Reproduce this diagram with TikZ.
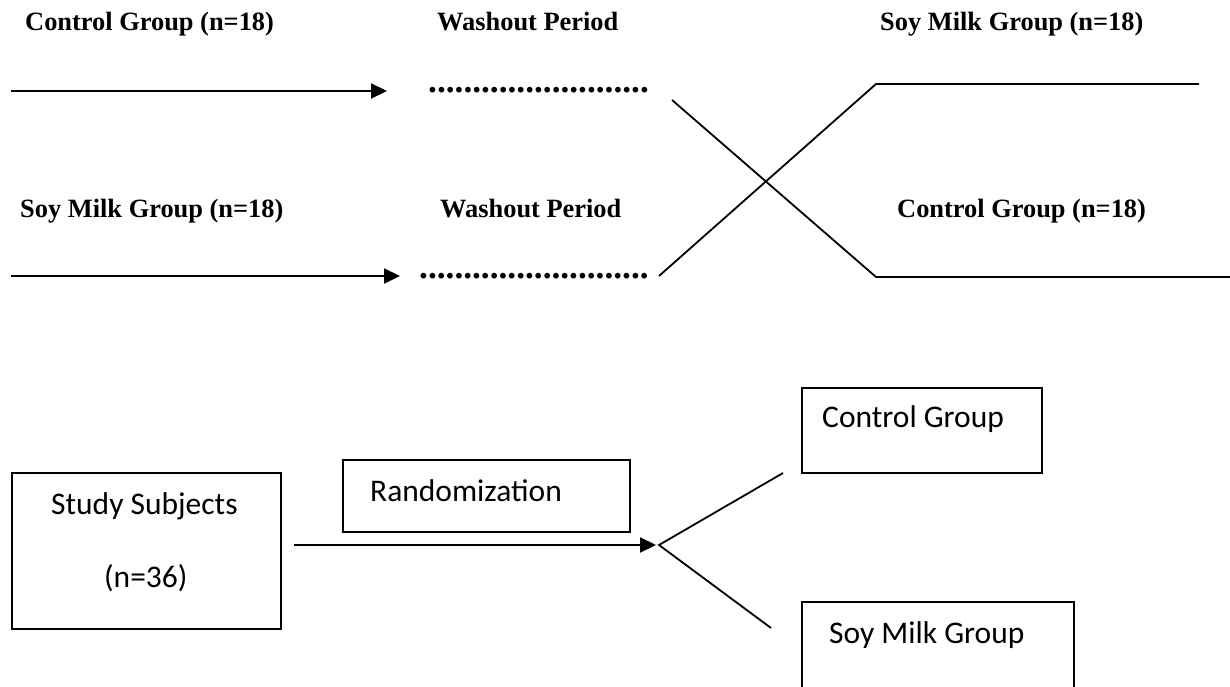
\documentclass[tikz,border=0pt]{standalone}
\usepackage{fontspec}
\setmainfont{Liberation Serif}
\newfontfamily\calibrifont{Carlito}
\usetikzlibrary{arrows.meta}

\tikzset{
  grplabel/.style={font=\bfseries\fontsize{26.4}{30}\selectfont, inner sep=0pt, anchor=base west},
  washdots/.style={font=\bfseries\fontsize{35.3}{40}\selectfont, inner sep=0pt, anchor=base west},
  boxtext/.style={font=\calibrifont\fontsize{31.5}{36}\selectfont, inner sep=0pt, anchor=base west},
  flowbox/.style={draw, line width=1.8pt, inner sep=0pt, anchor=north west},
  link/.style={line width=1.8pt},
  flow/.style={line width=2.2pt, -{Triangle[length=16pt,width=15pt]}},
}

\begin{document}
\begin{tikzpicture}[x=1pt, y=-1pt]
		\clip (0,0) rectangle (1230,687);
		% crossover period labels
		\node[grplabel] (ctl1) at (25,31) {Control Group (n=18)};
		\node[grplabel] (wash1) at (437,31) {Washout Period};
		\node[grplabel] (soy2) at (880,31) {Soy Milk Group (n=18)};
		\node[grplabel] (soy1) at (20,217) {Soy Milk Group (n=18)};
		\node[grplabel] (wash2) at (440,217) {Washout Period};
		\node[grplabel] (ctl2) at (897,217) {Control Group (n=18)};
		\node[washdots] (dots1) at (428,92.5) {.........................};
		\node[washdots] (dots2) at (419,278.5) {..........................};
		%
		\coordinate (a1) at (11,91);
		\coordinate (b1) at (387,91);
		\coordinate (a2) at (11,276);
		\coordinate (b2) at (400,276);
		\draw[flow] (a1) -- (b1);
		\draw[flow] (a2) -- (b2);
		%
		\coordinate (c1) at (672,100);
		\coordinate (k1) at (876,277);
		\coordinate (e1) at (1232,277);
		\coordinate (c2) at (659,276);
		\coordinate (k2) at (876,84);
		\coordinate (e2) at (1199,84);
		\draw[link] (c1) -- (k1) -- (e1);
		\draw[link] (c2) -- (k2) -- (e2);
		% randomization
		\node[flowbox, minimum width=269pt, minimum height=156pt] (subj) at (11,472) {};
		\node[boxtext] (subjtxt) at ([shift={(40,42)}]subj.north west) {Study Subjects};
		\node[boxtext] (subjn) at ([shift={(93,115)}]subj.north west) {(n=36)};
		\node[flowbox, minimum width=287pt, minimum height=72pt] (rand) at (342,459) {};
		\node[boxtext] (randtxt) at ([shift={(28,42)}]rand.north west) {Randomization};
		\node[flowbox, minimum width=240pt, minimum height=85pt] (ctlbox) at (801,387) {};
		\node[boxtext] (ctltxt) at ([shift={(21,40)}]ctlbox.north west) {Control Group};
		\node[flowbox, minimum width=272pt, minimum height=110pt] (soybox) at (801,601) {};
		\node[boxtext] (soytxt) at ([shift={(28,42)}]soybox.north west) {Soy Milk Group};
		%
		\coordinate (r0) at (294,545);
		\coordinate (fork) at (659,545);
		\coordinate (up) at (783,473);
		\coordinate (dn) at (771,628);
		\draw[flow] (r0) -- ([xshift=-3pt]fork);
		\draw[link] (up) -- (fork) -- (dn);
	\end{tikzpicture}
\end{document}
